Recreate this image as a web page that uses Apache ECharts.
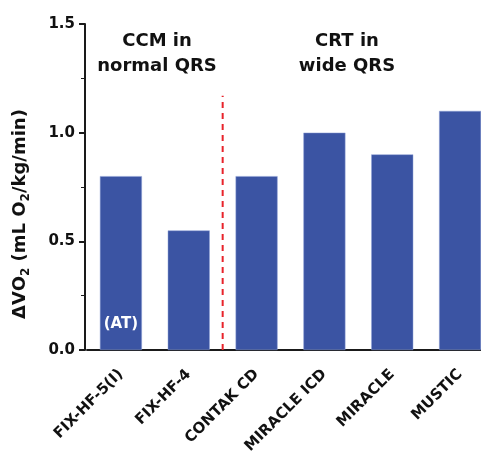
<!DOCTYPE html>
<html>
<head>
<meta charset="utf-8">
<script src="https://cdn.jsdelivr.net/npm/echarts@6/dist/echarts.min.js"></script>
<style>
    html, body { margin: 0; padding: 0; background: #fff; }
    #chart { width: 481px; height: 459px; }
</style>
</head>
<body>
<div id="chart"></div>
<script>
// 试验名称和 ΔVO2 数值
const trials = ['FIX-HF-5(I)', 'FIX-HF-4', 'CONTAK CD', 'MIRACLE ICD', 'MIRACLE', 'MUSTIC'];
const deltaVO2 = [0.8, 0.55, 0.8, 1.0, 0.9, 1.1];
const yTicks = [0, 0.5, 1.0, 1.5];
// 分隔线（CCM / CRT 之间）
const dividerX = [1.5, 1.5];
const dividerY = [0, 1.17];

const font = '"DejaVu Sans", Verdana, sans-serif';
const barColor = '#3b54a3';
const ink = '#111';

const eChart = echarts.init(document.getElementById('chart'));
const option = {
    animation: false,
    textStyle: { fontFamily: font },
    grid: {
        left: 87,
        width: 407,
        top: 24,
        bottom: 109,
        containLabel: false,
        outerBoundsMode: 'none'
    },
    graphic: [
        {
            type: 'text',
            x: 157,
            y: 29,
            style: {
                text: 'CCM in\nnormal QRS',
                align: 'center',
                verticalAlign: 'top',
                fontFamily: font,
                fontWeight: 'bold',
                fontSize: 18,
                lineHeight: 25,
                fill: ink
            }
        },
        {
            type: 'text',
            x: 347,
            y: 29,
            style: {
                text: 'CRT in\nwide QRS',
                align: 'center',
                verticalAlign: 'top',
                fontFamily: font,
                fontWeight: 'bold',
                fontSize: 18,
                lineHeight: 25,
                fill: ink
            }
        }
    ],
    xAxis: [
        {
            type: 'category',
            data: trials,
            axisLine: {
                lineStyle: { color: '#1a1a1a', width: 2 }
            },
            axisTick: {
                alignWithLabel: true,
                length: 6,
                lineStyle: { color: '#1a1a1a', width: 2 }
            },
            axisLabel: {
                interval: 0,
                rotate: 45,
                margin: 22,
                color: ink,
                fontWeight: 'bold',
                fontSize: 15,
                fontFamily: font
            }
        },
        {
            // 隐藏的数值轴，用来画分隔虚线
            type: 'value',
            min: -0.5,
            max: 5.5,
            show: false
        }
    ],
    yAxis: {
        type: 'value',
        min: 0,
        max: 1.5,
        interval: 0.5,
        offset: 2,
        name: '{t|ΔVO}{s|2}{t| (mL O}{s|2}{t|/kg/min)}',
        nameLocation: 'middle',
        nameGap: 56,
        nameTextStyle: {
            padding: [0, 54, 0, 0],
            rich: {
                t: { fontSize: 18, fontWeight: 'bold', fontFamily: font, color: ink, lineHeight: 22, verticalAlign: 'bottom' },
                s: { fontSize: 12, fontWeight: 'bold', fontFamily: font, color: ink, lineHeight: 22, verticalAlign: 'bottom', padding: [0, 0, -3, 0] }
            }
        },
        axisLine: {
            show: true,
            onZero: false,
            lineStyle: { color: '#1a1a1a', width: 2 }
        },
        axisTick: {
            show: true,
            length: 6,
            lineStyle: { color: '#1a1a1a', width: 2 }
        },
        minorTick: {
            show: true,
            splitNumber: 2,
            length: 4,
            lineStyle: { color: '#1a1a1a', width: 1 }
        },
        splitLine: { show: false },
        axisLabel: {
            margin: 10,
            color: ink,
            fontWeight: 'bold',
            fontSize: 15,
            fontFamily: font,
            formatter: function(v) {
                return yTicks.indexOf(v) >= 0 ? v.toFixed(1) : '';
            }
        }
    },
    series: [
        {
            type: 'bar',
            barWidth: 42,
            itemStyle: {
                color: barColor,
                borderColor: '#8fa0d6',
                borderWidth: 0.5
            },
            data: deltaVO2.map(function(v, i) {
                if (i === 0) {
                    return {
                        value: v,
                        label: {
                            show: true,
                            position: 'insideBottom',
                            distance: 18,
                            formatter: '(AT)',
                            color: '#fff',
                            fontWeight: 'bold',
                            fontSize: 15,
                            fontFamily: font
                        }
                    };
                }
                return v;
            }),
            z: 2
        },
        {
            type: 'line',
            xAxisIndex: 1,
            symbol: 'none',
            silent: true,
            lineStyle: {
                color: '#e8232b',
                width: 2,
                type: [6, 5]
            },
            data: dividerX.map(function(x, i) {
                return [x, dividerY[i]];
            }),
            z: 1
        }
    ]
};
eChart.setOption(option);
</script>
</body>
</html>
